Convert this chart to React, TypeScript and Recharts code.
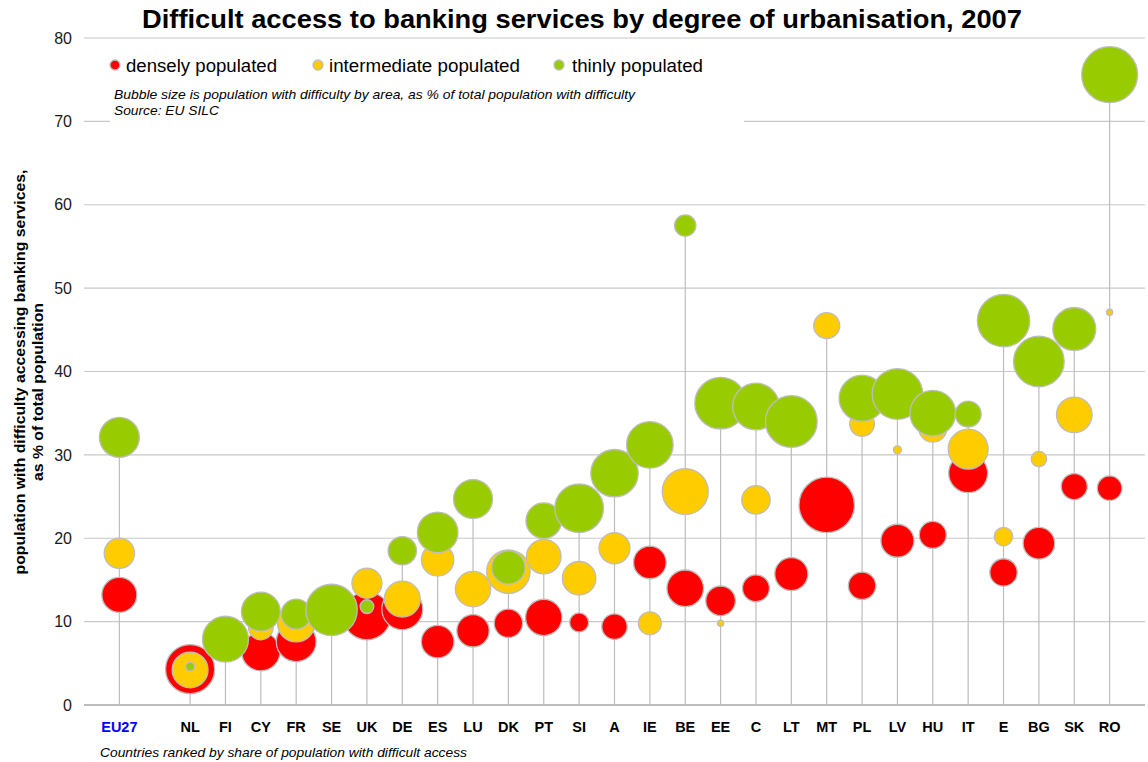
import React from 'react';
import { ScatterChart, Scatter, XAxis, YAxis, CartesianGrid, ErrorBar } from 'recharts';

// ---------- DATA ----------
const categories: string[] = [
  'EU27', '', 'NL', 'FI', 'CY', 'FR', 'SE', 'UK', 'DE', 'ES', 'LU', 'DK', 'PT', 'SI', 'A',
  'IE', 'BE', 'EE', 'C', 'LT', 'MT', 'PL', 'LV', 'HU', 'IT', 'E', 'BG', 'SK', 'RO',
];

// population with difficulty, % of total population
const denselyValues: (number | null)[] = [
  13.2, null, 4.3, null, 6.4, 7.6, null, 10.7, 11.5, 7.6, 8.9, 9.8, 10.5, 9.9, 9.4,
  17.1, 14.0, 12.5, 14.0, 15.7, 24.0, 14.3, 19.7, 20.4, 27.8, 15.9, 19.4, 26.2, 26.0,
];
const intermediateValues: (number | null)[] = [
  18.2, null, 4.2, null, 9.3, 9.8, null, 14.6, 12.7, 17.4, 13.9, 16.0, 17.8, 15.2, 18.8,
  9.8, 25.6, 9.8, 24.6, null, 45.5, 33.7, 30.6, 33.2, 30.7, 20.2, 29.5, 34.8, 47.1,
];
const thinlyValues: (number | null)[] = [
  32.1, null, 4.6, 7.9, 11.2, 10.9, 11.4, 11.8, 18.5, 20.7, 24.7, 16.5, 22.1, 23.6, 27.8,
  31.2, 57.5, 36.2, 35.8, 34.0, null, 36.8, 37.3, 35.0, 34.9, 46.1, 41.2, 45.1, 75.6,
];

// bubble size: population with difficulty by area, % of total population with difficulty
const denselySizes: (number | null)[] = [
  32.5, null, 64, null, 39, 42, null, 61, 44.6, 28.2, 27.8, 21.4, 35.1, 9.6, 17.1,
  28.2, 35.5, 23.2, 19.3, 29, 81.4, 19.9, 28.9, 19.3, 40.3, 19.9, 26.5, 17.9, 16,
];
const intermediateSizes: (number | null)[] = [
  24.5, null, 34, null, 16, 37, null, 24, 34.4, 27.8, 33.2, 50, 31.8, 29.9, 25.5,
  14, 56.1, 1, 21.4, null, 17.9, 16.1, 1.7, 20.8, 42.4, 9, 6.3, 33.6, 1,
];
const thinlySizes: (number | null)[] = [
  42.4, null, 2, 56, 40, 24, 70, 5, 21.4, 43.7, 40.3, 29.6, 33.6, 62.7, 59.6,
  57.6, 12.1, 70.6, 57.6, 71, null, 56.1, 67.9, 55.2, 17.9, 72.8, 67.9, 49, 83,
];

const yTicks: number[] = [0, 10, 20, 30, 40, 50, 60, 70, 80];

const seriesNames = ['densely populated', 'intermediate populated', 'thinly populated'];
const seriesColors = ['#ff0000', '#ffcc00', '#99cc00'];

// ---------- BUILD ----------
type Pt = { x: number; y: number; z: number };
function toPoints(values: (number | null)[], sizes: (number | null)[]): Pt[] {
  const out: Pt[] = [];
  categories.forEach((_c, i) => {
    const v = values[i];
    const s = sizes[i];
    if (v != null && s != null) out.push({ x: i, y: v, z: s });
  });
  return out;
}

const denselyData = toPoints(denselyValues, denselySizes);
const intermediateData = toPoints(intermediateValues, intermediateSizes);
const thinlyData = toPoints(thinlyValues, thinlySizes);

const dropData: { x: number; y: number; err: number[] }[] = [];
categories.forEach((_c, i) => {
  const vals = [denselyValues[i], intermediateValues[i], thinlyValues[i]].filter(
    (v): v is number => v != null
  );
  if (vals.length) {
    const top = Math.max(...vals);
    dropData.push({ x: i, y: top, err: [top, 0] });
  }
});

const tickIdx = categories.map((c, i) => (c ? i : -1)).filter((i) => i >= 0);

const R100 = 30.7;
const FONT = '"Liberation Sans", Arial, sans-serif';
const GRID = '#c8c8c8';
const BORDER = '#bdbdbd';

const makeBubble = (fill: string) => (props: any) => {
  const { cx, cy, payload } = props;
  if (cx == null || cy == null) return <g />;
  const r = R100 * Math.sqrt(payload.z / 100);
  return <circle cx={cx} cy={cy} r={r} fill={fill} stroke={BORDER} strokeWidth={1.3} />;
};

const XTick = (props: any) => {
  const { x, y, payload } = props;
  const label = categories[payload.value];
  return (
    <text
      x={x}
      y={y}
      dy={27}
      textAnchor="middle"
      fontFamily={FONT}
      fontWeight="bold"
      fontSize={14.5}
      fill={label === 'EU27' ? '#0000ff' : '#000000'}
    >
      {label}
    </text>
  );
};

export default function App() {
  return (
    <div style={{ position: 'absolute', left: 0, top: 0, width: 1148, height: 762, background: '#fff', fontFamily: FONT }}>
      <ScatterChart width={1148} height={762} margin={{ top: 38, right: 3, bottom: 27, left: 0 }}>
        <CartesianGrid vertical={false} stroke={GRID} strokeWidth={1.2} />
        <XAxis
          type="number"
          dataKey="x"
          domain={[-1, 29]}
          ticks={tickIdx}
          interval={0}
          allowDataOverflow
          height={30}
          tickLine={false}
          tickSize={0}
          tickMargin={0}
          axisLine={{ stroke: BORDER, strokeWidth: 2 }}
          tick={<XTick />}
        />
        <YAxis
          type="number"
          dataKey="y"
          domain={[0, 80]}
          ticks={yTicks}
          interval={0}
          width={84}
          axisLine={false}
          tickLine={false}
          tickSize={0}
          tickMargin={12}
          tick={{ fontSize: 16, fill: '#1a1a1a', fontFamily: FONT }}
        />
        <Scatter name={seriesNames[0]} data={denselyData} isAnimationActive={false} shape={makeBubble(seriesColors[0])} />
        <Scatter name={seriesNames[1]} data={intermediateData} isAnimationActive={false} shape={makeBubble(seriesColors[1])} />
        <Scatter name={seriesNames[2]} data={thinlyData} isAnimationActive={false} shape={makeBubble(seriesColors[2])} />
        <Scatter data={dropData} isAnimationActive={false} shape={() => <g />}>
          <ErrorBar dataKey="err" direction="y" width={0} stroke={BORDER} strokeWidth={1.2} isAnimationActive={false} />
        </Scatter>
      </ScatterChart>

      <svg
        width={1148}
        height={762}
        style={{ position: 'absolute', left: 0, top: 0, pointerEvents: 'none' }}
        fontFamily={FONT}
      >
        <text x={582} y={28} textAnchor="middle" fontSize={26} fontWeight="bold" fill="#000" textLength={880} lengthAdjust="spacingAndGlyphs">
          Difficult access to banking services by degree of urbanisation, 2007
        </text>

        <rect x={110} y={44} width={634} height={84} fill="#fff" />

        {/* legend */}
        <circle cx={115} cy={65} r={5} fill={seriesColors[0]} stroke={BORDER} strokeWidth={1.3} />
        <text x={126} y={72} fontSize={17.5} fill="#000" textLength={151} lengthAdjust="spacingAndGlyphs">{seriesNames[0]}</text>
        <circle cx={318} cy={65} r={5} fill={seriesColors[1]} stroke={BORDER} strokeWidth={1.3} />
        <text x={329} y={72} fontSize={17.5} fill="#000" textLength={191} lengthAdjust="spacingAndGlyphs">{seriesNames[1]}</text>
        <circle cx={559} cy={65} r={5} fill={seriesColors[2]} stroke={BORDER} strokeWidth={1.3} />
        <text x={572} y={72} fontSize={17.5} fill="#000" textLength={131} lengthAdjust="spacingAndGlyphs">{seriesNames[2]}</text>

        <text x={114} y={99} fontSize={13} fontStyle="italic" fill="#000" textLength={521} lengthAdjust="spacingAndGlyphs">
          Bubble size is population with difficulty by area, as % of  total population with difficulty
        </text>
        <text x={114} y={115} fontSize={13} fontStyle="italic" fill="#000" textLength={105} lengthAdjust="spacingAndGlyphs">
          Source: EU SILC
        </text>

        {/* y-axis title */}
        <text transform="translate(25,372) rotate(-90)" textAnchor="middle" fontSize={15.5} fontWeight="bold" fill="#000" textLength={405} lengthAdjust="spacingAndGlyphs">
          population with difficulty accessing banking services,
        </text>
        <text transform="translate(43,392) rotate(-90)" textAnchor="middle" fontSize={15.5} fontWeight="bold" fill="#000" textLength={178} lengthAdjust="spacingAndGlyphs">
          as % of total population
        </text>

        <text x={100} y={757} fontSize={13} fontStyle="italic" fill="#000" textLength={367} lengthAdjust="spacingAndGlyphs">
          Countries ranked by share of population with difficult access
        </text>
      </svg>
    </div>
  );
}
